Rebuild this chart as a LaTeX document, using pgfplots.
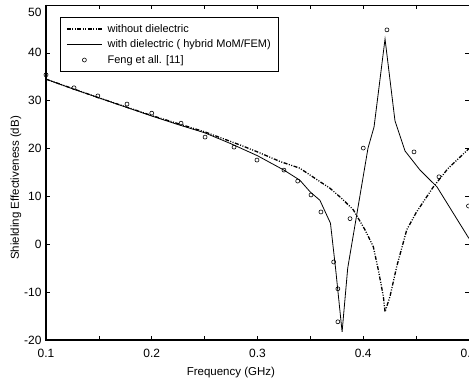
\documentclass[border=0pt]{standalone}
\usepackage{fontspec}
\setmainfont{Liberation Sans}
\usepackage{pgfplots}
\pgfplotsset{compat=1.18}
\usetikzlibrary{calc}
\begin{document}
\begin{tikzpicture}
\begin{axis}[name=ax, scale only axis, width=423pt, height=335pt,
  xmin=0.1, xmax=0.5, ymin=-20, ymax=50,
  xtick={0.1,0.15,0.2,0.25,0.3,0.35,0.4,0.45,0.5},
  xticklabels={0.1,,0.2,,0.3,,0.4,,0.5},
  ytick={-20,-10,0,10,20,30,40,50},
  yticklabels={-20,-10,0,10,20,30,40,\smash{\raisebox{-11.5pt}{50}}},
  tick align=inside, major tick length=4pt,
  tick style={black, line width=0.6pt},
  xticklabel pos=lower, yticklabel pos=left,
  /pgf/number format/assume math mode=true,
  ticklabel style={font=\fontsize{12}{14}\selectfont},
  xticklabel style={yshift=-6pt},
  yticklabel style={xshift=-1pt},
  axis line style={line width=0.6pt},
  xlabel={Frequency (GHz)},
  ylabel={Shielding Effectiveness (dB)},
  xlabel style={at={(axis description cs:0.437,-0.096)}, anchor=center, font=\fontsize{11.5}{13}\selectfont},
  ylabel style={at={(axis description cs:-0.071,0.454)}, anchor=center, font=\fontsize{11.5}{13}\selectfont},
  legend style={at={(axis description cs:0.033,0.964)}, anchor=north west, draw=black, line width=0.6pt,
    font=\fontsize{11}{13}\selectfont, inner xsep=6pt, inner ysep=5pt, row sep=2pt, cells={anchor=west},
    /tikz/every odd column/.style={column sep=3pt}},
  legend image code/.code={\draw[mark repeat=2,mark phase=2,#1] plot coordinates {(0pt,0pt)(17.5pt,0pt)(35pt,0pt)};},
  after end axis/.code={\draw[line width=1.5pt] (rel axis cs:0,1) -- (rel axis cs:0,0) -- (rel axis cs:1,0);},
]
\addplot[black, line width=1.3pt, dash pattern=on 4pt off 1.5pt on 1pt off 1.5pt on 1pt off 1.5pt] coordinates {
(0.1,34.5)(0.15,30.6)(0.2,26.9)(0.25,23.5)(0.2835,20.75)(0.3,19.3)(0.3213,17.3)(0.34,15.9)
(0.359,13.1)(0.3686,11.7)(0.38,9.5)(0.3906,7.2)(0.4017,3.0)(0.4095,-0.5)(0.4143,-5.4)(0.419,-10.9)
(0.4206,-14.1)(0.4253,-10.9)(0.4316,-4.7)(0.4411,3.0)(0.45,6.6)(0.4663,12.0)(0.48,15.8)(0.5,20.0)
};
\addlegendentry{without dielectric}
\addplot[black, line width=0.8pt] coordinates {
(0.1,34.5)(0.125,32.5)(0.15,30.6)(0.175,28.7)(0.2,26.8)(0.225,25.0)(0.25,23.3)(0.275,21.0)
(0.3,18.5)(0.325,15.5)(0.34,13.4)(0.35,10.9)(0.359,9.2)(0.369,4.4)(0.374,-5.4)(0.38,-18.3)
(0.3853,-5.0)(0.4045,20.1)(0.4102,24.5)(0.4206,42.9)(0.43,25.8)(0.4395,19.5)(0.4537,15.5)
(0.4697,12.0)(0.5,1.2)
};
\addlegendentry{with dielectric ( hybrid MoM/FEM)}
\addplot[black, only marks, mark=o, mark size=2pt, mark options={line width=0.6pt}] coordinates {
(0.1,35.4)(0.1265,32.7)(0.149,31.0)(0.1766,29.3)(0.2,27.4)(0.2277,25.3)(0.2504,22.4)(0.2778,20.3)
(0.2995,17.6)(0.325,15.5)(0.338,13.2)(0.3506,10.3)(0.36,6.75)(0.372,-3.7)(0.376,-9.3)(0.376,-16.2)
(0.3875,5.35)(0.4,20.1)(0.4224,44.8)(0.448,19.3)(0.4716,14.1)(0.4995,8.0)
};
\addlegendentry{Feng et all. [11]}
\end{axis}
\pgfresetboundingbox
\useasboundingbox ($(ax.south west)+(-46pt,-45pt)$) rectangle ($(ax.north east)+(0pt,5pt)$);
\end{tikzpicture}
\end{document}
